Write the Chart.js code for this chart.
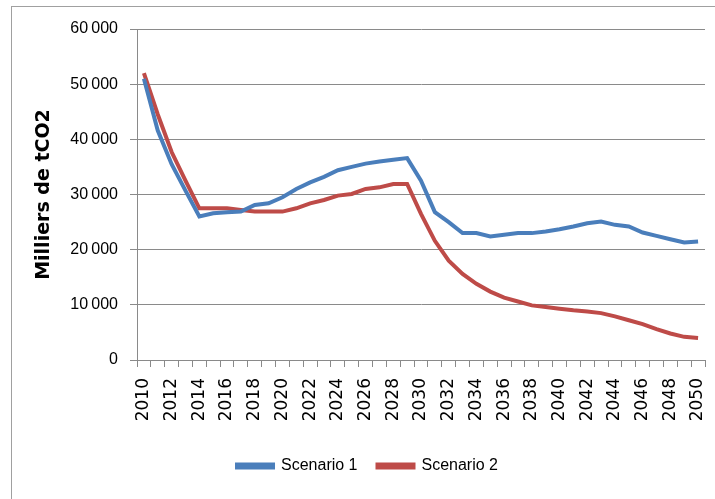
<!DOCTYPE html>
<html>
<head>
<meta charset="utf-8">
<script src="https://cdn.jsdelivr.net/npm/chart.js@4/dist/chart.umd.min.js"></script>
<style>
html,body{margin:0;padding:0;background:#fff;overflow:hidden;}
#wrap{position:relative;width:715px;height:499px;}
#frame{position:absolute;left:11px;top:6px;width:760px;height:560px;border:1px solid #a0a0a0;box-sizing:border-box;pointer-events:none;}
canvas{position:absolute;left:0;top:0;}
</style>
</head>
<body>
<div id="wrap">
<canvas id="c" width="715" height="499"></canvas>
<div id="frame"></div>
</div>
<script>
const years = [];
for (let y = 2010; y <= 2050; y++) years.push(String(y));

const scenario1 = [51000, 41600, 35500, 30700, 26000, 26600, 26800, 26900, 28100, 28400,
  29500, 31000, 32200, 33200, 34400, 35000, 35600, 36000, 36300, 36600,
  32500, 26800, 25000, 23000, 23000, 22400, 22700, 23000, 23000, 23300,
  23700, 24200, 24800, 25100, 24500, 24200, 23100, 22500, 21900, 21300, 21500];

const scenario2 = [52000, 44500, 37700, 32500, 27500, 27500, 27500, 27200, 26900, 26900,
  26900, 27500, 28400, 29000, 29800, 30100, 31000, 31300, 31900, 31900,
  26500, 21600, 18000, 15600, 13800, 12400, 11300, 10600, 9900, 9600,
  9300, 9000, 8800, 8500, 7900, 7200, 6500, 5600, 4800, 4200, 4000];

const yTicks = [0, 10000, 20000, 30000, 40000, 50000, 60000];
const seriesNames = ['Scenario 1', 'Scenario 2'];
const yTitle = 'Milliers de tCO2';

const blue = '#4A7EBB', red = '#BE4B48', grid = '#8a8a8a';

function fmt(v){
  const s = String(v);
  if (s.length <= 3) return s;
  return s.slice(0, s.length - 3) + '\u2009' + s.slice(s.length - 3);
}

new Chart(document.getElementById('c'), {
  type: 'line',
  data: {
    labels: years,
    datasets: [
      {label: seriesNames[0], data: scenario1, borderColor: blue, backgroundColor: blue, borderWidth: 4, pointRadius: 0, tension: 0},
      {label: seriesNames[1], data: scenario2, borderColor: red, backgroundColor: red, borderWidth: 4, pointRadius: 0, tension: 0}
    ]
  },
  options: {
    responsive: false,
    animation: false,
    events: [],
    layout: {padding: {left: 30, top: 29, right: 10, bottom: 15}},
    plugins: {
      tooltip: {enabled: false},
      legend: {
        position: 'bottom',
        labels: {
          boxWidth: 36, boxHeight: 3, padding: 20,
          color: '#000',
          font: {family: "'Liberation Sans', Arial, sans-serif", size: 16}
        }
      }
    },
    scales: {
      x: {
        type: 'category',
        offset: true,
        grid: {offset: true, drawOnChartArea: false, drawTicks: true, tickLength: 7, color: grid, lineWidth: 1},
        border: {display: true, color: grid, width: 1},
        ticks: {
          autoSkip: false, minRotation: 90, maxRotation: 90, padding: 11,
          color: '#000',
          font: {family: "'DejaVu Sans', sans-serif", size: 17},
          callback: function(v, i){ return i % 2 === 0 ? years[i] : ''; }
        },
        afterFit: function(s){ s.height = 78; s.paddingLeft = 0; s.paddingRight = 0; }
      },
      y: {
        min: 0, max: 60000,
        afterBuildTicks: function(s){ s.ticks = yTicks.map(v => ({value: v})); },
        grid: {color: grid, lineWidth: 1, tickLength: 7, drawTicks: true},
        border: {display: true, color: grid, width: 1},
        ticks: {
          padding: 12, color: '#000',
          font: {family: "'Liberation Sans', Arial, sans-serif", size: 16},
          callback: function(v){ return fmt(v); }
        },
        title: {
          display: true, text: yTitle, color: '#000',
          font: {family: "'DejaVu Sans', sans-serif", size: 19, weight: 'bold'},
          padding: {top: 3, bottom: 0}
        },
        afterFit: function(s){ s.width = 107; s.paddingTop = 0; s.paddingBottom = 0; }
      }
    }
  }
});
</script>
</body>
</html>
